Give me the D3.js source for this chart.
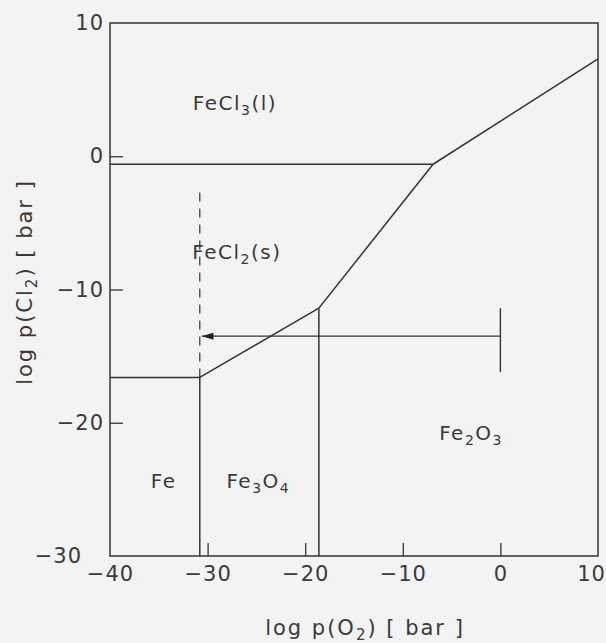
<!DOCTYPE html>
<html>
<head>
<meta charset="utf-8">
<script src="https://cdn.jsdelivr.net/npm/d3@7"></script>
<style>
  body { margin: 0; background: #f3f3f3; }
  text { font-family: "DejaVu Sans", sans-serif; fill: #3a3a3a; }
</style>
</head>
<body>
<div id="plot"></div>
<script>
// axis ticks
var xTicks = [-40, -30, -20, -10, 0, 10];
var yTicks = [-30, -20, -10, 0, 10];

// phase boundaries, [log p(O2), log p(Cl2)]
var fecl3Line = [[-40, -0.6], [-6.9, -0.6]];
var fecl3Fe2o3 = [[-6.9, -0.6], [10, 7.3]];
var fecl2Fe2o3 = [[-6.9, -0.6], [-18.6, -11.4]];
var fecl2Fe3o4 = [[-18.6, -11.4], [-30.8, -16.6]];
var fecl2Fe = [[-40, -16.6], [-30.8, -16.6]];
var feFe3o4 = [[-30.8, -16.6], [-30.8, -30]];
var fe3o4Fe2o3 = [[-18.6, -11.4], [-18.6, -30]];
var dashedLine = [[-30.8, -16.6], [-30.8, -2.4]];

// arrow + bar
var arrowLine = [[0, -13.5], [-30.6, -13.5]];
var errorBar = [[0, -11.4], [0, -16.2]];

// region labels
var regionNames = ["FeCl", "FeCl", "Fe", "Fe", "Fe"];
var regionSubs = ["3", "2", "", "3", "2"];
var regionTails = ["(l)", "(s)", "", "O", "O"];
var regionSubs2 = ["", "", "", "4", "3"];
var regionX = [-27.2, -27.0, -34.5, -24.8, -3.0];
var regionY = [4.0, -7.2, -24.4, -24.4, -20.8];

var width = 606, height = 643;

var svg = d3.select("#plot").append("svg")
    .attr("width", width)
    .attr("height", height);

var x = d3.scaleLinear().domain([-40, 10]).range([110, 598]);
var y = d3.scaleLinear().domain([-30, 10]).range([556, 23]);

var ink = "#333";

// frame
svg.append("rect")
    .attr("x", x(-40)).attr("y", y(10))
    .attr("width", x(10) - x(-40)).attr("height", y(-30) - y(10))
    .attr("fill", "none").attr("stroke", ink).attr("stroke-width", 1.5);

// x axis (ticks inward)
var axisX = svg.append("g")
    .attr("transform", "translate(0," + y(-30) + ")")
    .call(d3.axisBottom(x).tickValues(xTicks).tickSize(-13).tickPadding(16));
axisX.select(".domain").remove();
axisX.selectAll("line").attr("stroke", ink).attr("stroke-width", 1.3)
    .filter(function (d) { return d === -40 || d === 10; }).remove();
axisX.selectAll("text")
    .attr("font-size", "21px").attr("font-family", "DejaVu Sans")
    .attr("fill", "#3a3a3a").attr("letter-spacing", "1px")
    .attr("dy", "0.45em")
    .attr("dx", function (d) { return d === 10 ? -7 : 0; });

// y axis (ticks inward)
var axisY = svg.append("g")
    .attr("transform", "translate(" + x(-40) + ",0)")
    .call(d3.axisLeft(y).tickValues(yTicks).tickSize(-13).tickPadding(6));
axisY.select(".domain").remove();
axisY.selectAll("line").attr("stroke", ink).attr("stroke-width", 1.3)
    .filter(function (d) { return d === -30 || d === 10; }).remove();
axisY.selectAll("text")
    .attr("font-size", "21px").attr("font-family", "DejaVu Sans")
    .attr("fill", "#3a3a3a").attr("letter-spacing", "1px")
    .attr("dx", function (d) { return d === -30 ? -22 : 0; });

// boundaries
var line = d3.line().x(function (d) { return x(d[0]); }).y(function (d) { return y(d[1]); });
[fecl3Line, fecl3Fe2o3, fecl2Fe2o3, fecl2Fe3o4, fecl2Fe, feFe3o4, fe3o4Fe2o3].forEach(function (seg) {
    svg.append("path").attr("d", line(seg))
        .attr("fill", "none").attr("stroke", ink).attr("stroke-width", 1.5);
});
svg.append("path").attr("d", line(dashedLine))
    .attr("fill", "none").attr("stroke", ink).attr("stroke-width", 1.2)
    .attr("stroke-dasharray", "9,7");

// arrow
svg.append("defs").append("marker")
    .attr("id", "head").attr("viewBox", "0 0 10 6")
    .attr("refX", 10).attr("refY", 3)
    .attr("markerWidth", 17).attr("markerHeight", 7)
    .attr("markerUnits", "userSpaceOnUse")
    .attr("orient", "auto")
    .append("path").attr("d", "M0,0L10,3L0,6Z").attr("fill", "#222");
svg.append("path").attr("d", line(arrowLine))
    .attr("fill", "none").attr("stroke", ink).attr("stroke-width", 1.4)
    .attr("marker-end", "url(#head)");
svg.append("path").attr("d", line(errorBar))
    .attr("fill", "none").attr("stroke", ink).attr("stroke-width", 1.4);

// region labels
regionNames.forEach(function (n, i) {
    var t = svg.append("text")
        .attr("x", x(regionX[i])).attr("y", y(regionY[i]))
        .attr("dy", "0.35em")
        .attr("text-anchor", "middle")
        .attr("font-size", "20px").attr("letter-spacing", "1.5px");
    t.append("tspan").text(n);
    if (regionSubs[i]) t.append("tspan").attr("font-size", "14px").attr("dy", "5").text(regionSubs[i]);
    if (regionTails[i]) t.append("tspan").attr("dy", regionSubs[i] ? "-5" : "0").text(regionTails[i]);
    if (regionSubs2[i]) t.append("tspan").attr("font-size", "14px").attr("dy", "5").text(regionSubs2[i]);
});

// axis titles
var xt = svg.append("text")
    .attr("x", 365).attr("y", 635)
    .attr("text-anchor", "middle")
    .attr("font-size", "21px").attr("letter-spacing", "2px");
xt.append("tspan").text("log  p(O");
xt.append("tspan").attr("font-size", "15px").attr("dy", "5").text("2");
xt.append("tspan").attr("dy", "-5").text(")  [  bar  ]");

var yt = svg.append("text")
    .attr("transform", "translate(32,282) rotate(-90)")
    .attr("text-anchor", "middle")
    .attr("font-size", "21px").attr("letter-spacing", "2px");
yt.append("tspan").text("log  p(Cl");
yt.append("tspan").attr("font-size", "15px").attr("dy", "5").text("2");
yt.append("tspan").attr("dy", "-5").text(")  [  bar  ]");
</script>
</body>
</html>
